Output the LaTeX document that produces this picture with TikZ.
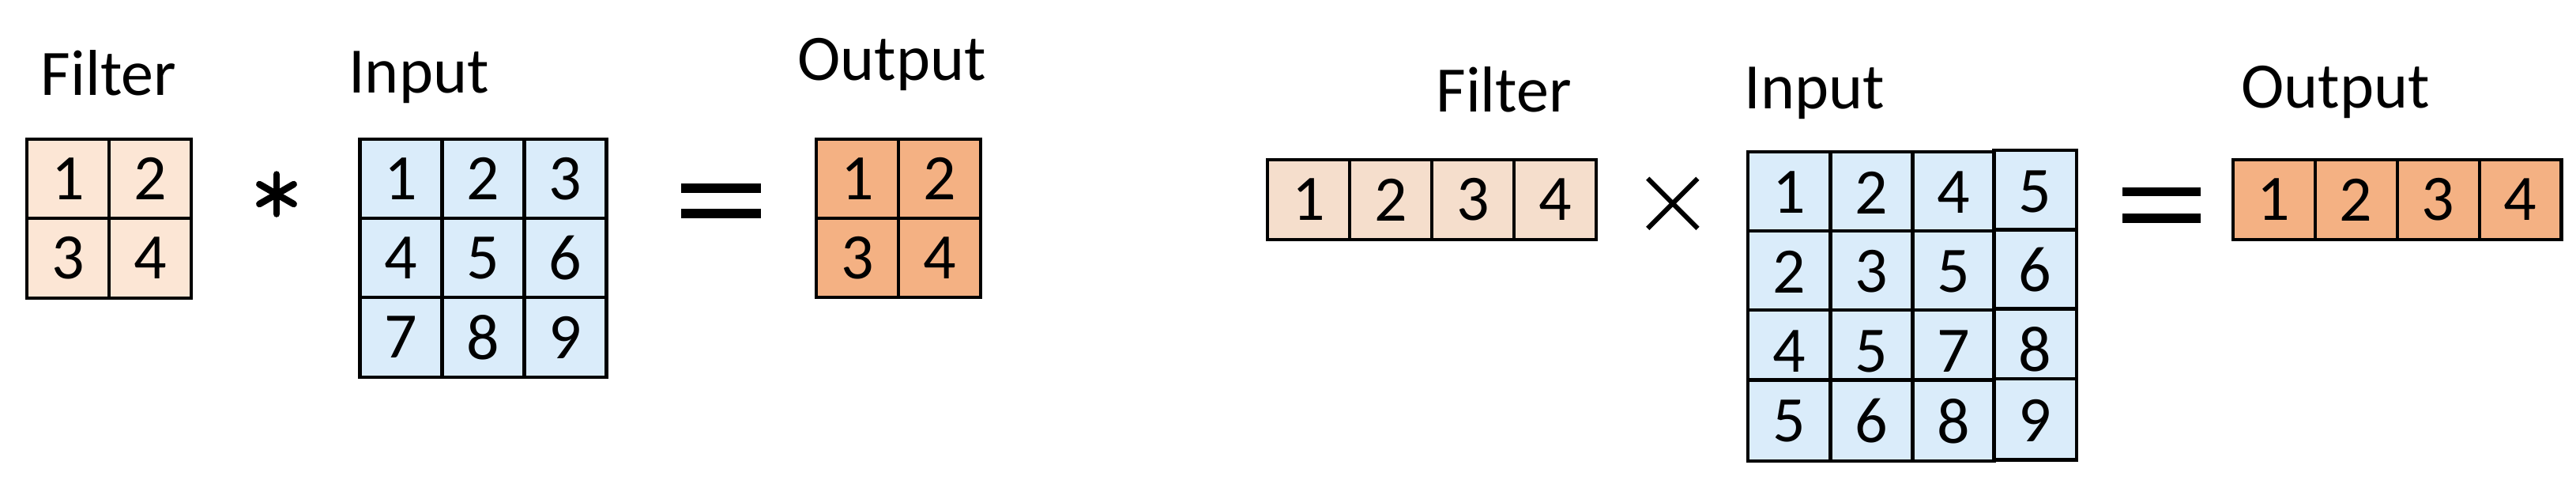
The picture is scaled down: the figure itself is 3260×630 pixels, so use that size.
\documentclass[tikz,border=0pt]{standalone}
\usepackage{fontspec}
\setmainfont{Carlito}
\definecolor{filtL}{HTML}{FCE6D5}
\definecolor{filtR}{HTML}{F5DECC}
\definecolor{inpc}{HTML}{DAECFA}
\definecolor{outc}{HTML}{F4B183}
\begin{document}
\begin{tikzpicture}[x=1pt,y=-1pt,
  cell/.style={draw=black, line width=4.2pt, inner sep=0pt, outer sep=0pt,
    font=\fontsize{82}{90}\selectfont},
  lab/.style={anchor=base, inner sep=0pt, font=\fontsize{82}{90}\selectfont},
  dig/.style={inner sep=0pt, font=\fontsize{82}{90}\selectfont},
  opline/.style={line width=8.5pt, line cap=round},
  crossline/.style={line width=6pt}]
\useasboundingbox (0,0) rectangle (3260,630);
\fill[white] (0,0) rectangle (3260,630);

% ---------- left: convolution ----------
\node[lab] (tFL) at (137.6,120.5) {Filter};
\node[lab] (tIL) at (530,117.3) {Input};
\node[lab] (tOL) at (1128.6,101.2) {Output};

\foreach \r/\c/\v in {0/0/1,0/1/2,1/0/3,1/1/4}
  \node[cell, fill=filtL, minimum width=104pt, minimum height=100.5pt]
    (fL\v) at ({86+104*\c},{225.9+100.5*\r}) {\v};

\foreach \r/\c/\v in {0/0/1,0/1/2,0/2/3,1/0/4,1/1/5,1/2/6,2/0/7,2/1/8,2/2/9}
  \node[cell, fill=inpc, minimum width=104pt, minimum height=100.3pt]
    (iL\v) at ({507.4+104*\c},{225.85+100.3*\r}) {\v};

\foreach \r/\c/\v in {0/0/1,0/1/2,1/0/3,1/1/4}
  \node[cell, fill=outc, minimum width=103.9pt, minimum height=100.3pt]
    (oL\v) at ({1085+103.9*\c},{225.9+100.3*\r}) {\v};

% asterisk
\draw[opline] (350,220.5) -- (350,270.5);
\draw[opline] (328.3,233) -- (371.7,258);
\draw[opline] (371.7,233) -- (328.3,258);

% equal sign (left)
\fill (862.2,231.8) rectangle (962.7,243.9);
\fill (862.2,264.2) rectangle (962.7,276.4);

% ---------- right: matrix multiplication ----------
\node[lab] (tFR) at (1903,141.4) {Filter};
\node[lab] (tIR) at (2296,137.8) {Input};
\node[lab] (tOR) at (2955.5,136.6) {Output};

\foreach \c/\v in {0/1,1/2,2/3,3/4}
  \node[cell, fill=filtR, minimum width=104.1pt, minimum height=101pt]
    (fR\v) at ({1656+104.1*\c},252.5) {\v};

% times sign
\draw[crossline] (2085.2,225.7) -- (2148.4,288.9);
\draw[crossline] (2148.4,225.7) -- (2085.2,288.9);

% input matrix: columns 1-3
\foreach \r/\ya/\yb in {1/192/292,2/292/391.7,3/391.7/480.5,4/480.5/582.6}
  \foreach \c/\xa/\xb in {1/2212/2316.5,2/2316.5/2420.5,3/2420.5/2523.5}
    \node[cell, fill=inpc, minimum width={(\xb-\xa)*1pt}, minimum height={(\yb-\ya)*1pt}]
      (iR\r\c) at ({(\xa+\xb)/2},{(\ya+\yb)/2}) {};
% input matrix: column 4
\foreach \r/\ya/\yb in {1/189.6/290.5,2/290.5/390.5,3/390.5/479,4/479/581.4}
  \node[cell, fill=inpc, minimum width=104.5pt, minimum height={(\yb-\ya)*1pt}]
    (iR\r4) at (2575.75,{(\ya+\yb)/2}) {};

% input matrix digits
\foreach \r/\y/\a/\b/\cc in {1/243.5/1/2/4,2/343.5/2/3/5,3/444/4/5/7,4/532.3/5/6/8}{
  \node[dig] (dR\r1) at (2264.25,\y) {\a};
  \node[dig] (dR\r2) at (2368.5,\y) {\b};
  \node[dig] (dR\r3) at (2472,\y) {\cc};
}
\foreach \r/\y/\d in {1/242/5,2/341.5/6,3/442/8,4/532/9}
  \node[dig] (dR\r4) at (2575.5,\y) {\d};

% equal sign (right)
\fill (2685.5,236.8) rectangle (2785,248.3);
\fill (2685.5,270.2) rectangle (2785,281.8);

\foreach \c/\v in {0/1,1/2,2/3,3/4}
  \node[cell, fill=outc, minimum width=103.95pt, minimum height=101.3pt]
    (oR\v) at ({2877.7+103.95*\c},252.4) {\v};
\end{tikzpicture}
\end{document}
